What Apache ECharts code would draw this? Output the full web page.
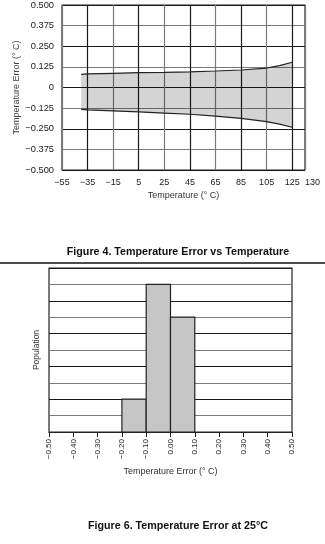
<!DOCTYPE html>
<html>
<head>
<meta charset="utf-8">
<script src="https://cdn.jsdelivr.net/npm/echarts@6/dist/echarts.min.js"></script>
<style>
  html, body { margin: 0; padding: 0; background: #fff; }
  #chart { width: 325px; height: 544px; }
</style>
</head>
<body>
<div id="chart"></div>
<script>
// Figure 4: error band over the operating temperature range
const temperatures = [-40, -35, -15, 5, 25, 45, 65, 85, 105, 115, 125];
const errorUpper   = [0.080, 0.082, 0.086, 0.090, 0.092, 0.095, 0.100, 0.106, 0.118, 0.133, 0.153];
const errorLower   = [-0.132, -0.136, -0.142, -0.148, -0.155, -0.162, -0.173, -0.187, -0.207, -0.222, -0.241];
// the last gridline sits at the frame edge and carries the "130" label
const tempTicks      = [-55, -35, -15, 5, 25, 45, 65, 85, 105, 125, 135];
const tempTickLabels = ['\u221255', '\u221235', '\u221215', '5', '25', '45', '65', '85', '105', '125', '130'];

// Figure 6: histogram of error at 25 °C
const binStart   = [-0.20, -0.10, 0.00];
const binEnd     = [-0.10, 0.00, 0.10];
const population = [2, 9, 7];

const FONT = 'Liberation Sans';
const INK = '#222';
const minus = s => s.replace('-', '\u2212');

const upperPts = temperatures.map((t, i) => [t, errorUpper[i]]);
const lowerPts = temperatures.map((t, i) => [t, errorLower[i]]);
const bandRows = temperatures.map((t, i) => [t, errorLower[i], errorUpper[i]]);
const bins     = binStart.map((s, i) => [s, binEnd[i], population[i]]);

const chart = echarts.init(document.getElementById('chart'), null, { renderer: 'canvas' });

chart.setOption({
  animation: false,
  backgroundColor: '#fff',
  textStyle: { fontFamily: FONT },
  grid: [
    { left: 62, right: 20, top: 5, height: 165, show: true, borderColor: INK, borderWidth: 1.2,
      backgroundColor: 'transparent', containLabel: false, outerBoundsMode: 'none' },
    { left: 49, right: 33, top: 268, height: 164, show: true, borderColor: INK, borderWidth: 1.2,
      backgroundColor: 'transparent', containLabel: false, outerBoundsMode: 'none' }
  ],
  xAxis: [
    {
      gridIndex: 0, type: 'value', min: tempTicks[0], max: tempTicks[tempTicks.length - 1],
      axisLine: { show: false },
      axisTick: { show: false, customValues: tempTicks },
      axisLabel: { customValues: tempTicks, color: INK, fontSize: 9, margin: 8,
                   showMaxLabel: true, alignMaxLabel: 'left',
                   formatter: v => tempTickLabels[tempTicks.indexOf(v)] },
      splitLine: { show: true, lineStyle: { color: ['#7a7a7a', '#1a1a1a'], width: 1.2 } },
      name: 'Temperature (\u00B0 C)', nameLocation: 'middle', nameGap: 21,
      nameTextStyle: { color: '#333', fontSize: 9 }
    },
    {
      gridIndex: 1, type: 'value', min: -0.5, max: 0.5, interval: 0.1,
      axisLine: { show: true, lineStyle: { color: INK, width: 1.2 } },
      axisTick: { show: true, length: 5, lineStyle: { color: INK } },
      axisLabel: { color: INK, fontSize: 8, rotate: 90, margin: 7,
                   formatter: v => Math.abs(v) < 1e-9 ? '0.00' : minus(v.toFixed(2)) },
      splitLine: { show: false },
      name: 'Temperature Error (\u00B0 C)', nameLocation: 'middle', nameGap: 35,
      nameTextStyle: { color: '#333', fontSize: 9 }
    }
  ],
  yAxis: [
    {
      gridIndex: 0, type: 'value', min: -0.5, max: 0.5, interval: 0.125,
      axisLine: { show: false }, axisTick: { show: false },
      axisLabel: { color: INK, fontSize: 9.3, margin: 8,
                   formatter: v => Math.abs(v) < 1e-9 ? '0' : minus(v.toFixed(3)) },
      splitLine: { show: true, lineStyle: { color: ['#1a1a1a', '#7a7a7a'], width: 1.2 } },
      name: 'Temperature Error (\u00B0 C)', nameLocation: 'middle', nameGap: 41,
      nameMoveOverlap: false,
      nameTextStyle: { color: '#4a3a3a', fontSize: 9 }
    },
    {
      gridIndex: 1, type: 'value', min: 0, max: 10, interval: 1,
      axisLine: { show: false }, axisTick: { show: false }, axisLabel: { show: false },
      splitLine: { show: true, lineStyle: { color: ['#1a1a1a', '#7a7a7a'], width: 1.2 } },
      name: 'Population', nameLocation: 'middle', nameGap: 8,
      nameTextStyle: { color: '#333', fontSize: 8.5 }
    }
  ],
  series: [
    {
      // shaded band between the lower and upper error limits, built as one polygon
      type: 'custom', xAxisIndex: 0, yAxisIndex: 0, data: bandRows,
      encode: { x: 0, y: [1, 2] }, z: 1,
      renderItem: (params, api) => {
        if (params.dataIndex !== 0) return null;
        const top = upperPts.map(p => api.coord(p));
        const bottom = lowerPts.map(p => api.coord(p)).reverse();
        return {
          type: 'polygon',
          shape: { points: top.concat(bottom) },
          style: { fill: 'rgba(0,0,0,0.17)', stroke: null }
        };
      }
    },
    {
      type: 'line', xAxisIndex: 0, yAxisIndex: 0, data: upperPts,
      symbol: 'none', lineStyle: { color: INK, width: 1.2 }, z: 3
    },
    {
      type: 'line', xAxisIndex: 0, yAxisIndex: 0, data: lowerPts,
      symbol: 'none', lineStyle: { color: INK, width: 1.2 }, z: 3
    },
    {
      type: 'custom', xAxisIndex: 1, yAxisIndex: 1, data: bins,
      encode: { x: [0, 1], y: 2 },
      renderItem: (params, api) => {
        const a = api.coord([api.value(0), 0]);
        const b = api.coord([api.value(1), api.value(2)]);
        return {
          type: 'rect',
          shape: { x: a[0], y: b[1], width: b[0] - a[0], height: a[1] - b[1] },
          style: { fill: '#c6c6c6', stroke: INK, lineWidth: 1.2 }
        };
      }
    }
  ],
  graphic: [
    { type: 'text', x: 178, y: 252, style: { text: 'Figure 4. Temperature Error vs Temperature',
      font: 'bold 10.7px "Liberation Sans"', fill: '#111', align: 'center', verticalAlign: 'middle' } },
    { type: 'line', shape: { x1: 0, y1: 263, x2: 325, y2: 263 }, style: { stroke: '#111', lineWidth: 1.3 } },
    { type: 'text', x: 178, y: 526, style: { text: 'Figure 6. Temperature Error at 25\u00B0C',
      font: 'bold 10.7px "Liberation Sans"', fill: '#111', align: 'center', verticalAlign: 'middle' } }
  ]
});
</script>
</body>
</html>
